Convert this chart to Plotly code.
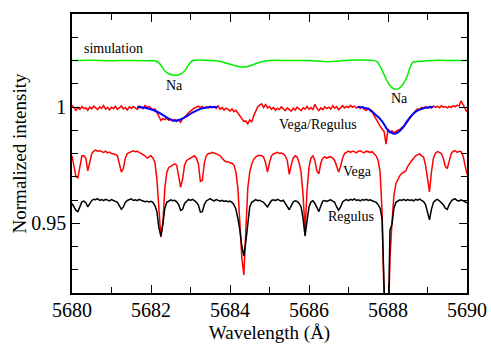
import numpy as np
import plotly.graph_objects as go

# wavelength grid of the observed spectra (Angstrom)
WL_START = 5680.0
WL_STEP = 0.05
N_PTS = 201
wl = np.round(WL_START + WL_STEP * np.arange(N_PTS), 2)

vega = [
    0.979, 0.975, 0.970, 0.9695, 0.975, 0.979, 0.979, 0.978, 0.9725, 0.977,
    0.980, 0.981, 0.9815, 0.981, 0.9812, 0.9808, 0.9805, 0.981, 0.9803, 0.9806,
    0.980, 0.9798, 0.9796, 0.979, 0.976, 0.972, 0.9735, 0.978, 0.980, 0.9805,
    0.981, 0.9812, 0.9808, 0.981, 0.9805, 0.980, 0.9795, 0.979, 0.978, 0.9785,
    0.979, 0.978, 0.976, 0.969, 0.955, 0.944, 0.950, 0.965, 0.972, 0.974,
    0.9745, 0.975, 0.9755, 0.975, 0.971, 0.9655, 0.969, 0.975, 0.977, 0.9775,
    0.978, 0.9785, 0.979, 0.978, 0.9755, 0.968, 0.9685, 0.976, 0.979, 0.980,
    0.980, 0.9805, 0.9802, 0.980, 0.9795, 0.979, 0.978, 0.977, 0.9765, 0.9765,
    0.976, 0.9758, 0.975, 0.972, 0.965, 0.950, 0.935, 0.9278, 0.948, 0.965,
    0.972, 0.9755, 0.9775, 0.9785, 0.979, 0.9792, 0.979, 0.9785, 0.976, 0.972,
    0.976, 0.979, 0.9798, 0.980, 0.9805, 0.980, 0.9802, 0.9798, 0.979, 0.977,
    0.971, 0.975, 0.978, 0.979, 0.9785, 0.976, 0.972, 0.962, 0.947, 0.964,
    0.974, 0.978, 0.979, 0.977, 0.9725, 0.9712, 0.976, 0.978, 0.9785, 0.978,
    0.9785, 0.9786, 0.978, 0.977, 0.974, 0.972, 0.9745, 0.978, 0.980, 0.9805,
    0.981, 0.9805, 0.981, 0.9808, 0.9803, 0.981, 0.9812, 0.9806, 0.9804, 0.981,
    0.9808, 0.9805, 0.9808, 0.980, 0.979, 0.977, 0.972, 0.955, 0.915, 0.880,
    0.900, 0.935, 0.950, 0.962, 0.967, 0.969, 0.9705, 0.9715, 0.972, 0.9725,
    0.9745, 0.976, 0.977, 0.978, 0.979, 0.9795, 0.9798, 0.979, 0.9785, 0.975,
    0.968, 0.9635, 0.972, 0.978, 0.980, 0.9808, 0.9805, 0.980, 0.978, 0.9745,
    0.9735, 0.9775, 0.980, 0.981, 0.9812, 0.9805, 0.981, 0.9808, 0.979, 0.975,
    0.971,
]

regulus = [
    0.9585, 0.957, 0.9555, 0.955, 0.957, 0.9592, 0.9595, 0.9588, 0.957, 0.9585,
    0.9598, 0.9603, 0.9601, 0.9606, 0.9598, 0.9602, 0.9597, 0.9603, 0.960, 0.9596,
    0.9602, 0.9598, 0.9595, 0.959, 0.9575, 0.956, 0.957, 0.959, 0.9598, 0.9602,
    0.9605, 0.9598, 0.9601, 0.9597, 0.9603, 0.9599, 0.9596, 0.9593, 0.9595, 0.9592,
    0.9594, 0.959, 0.9575, 0.955, 0.948, 0.9445, 0.9495, 0.9565, 0.959, 0.9597,
    0.9601, 0.9597, 0.9599, 0.9592, 0.958, 0.9555, 0.956, 0.9585, 0.9596, 0.9602,
    0.9598, 0.9603, 0.9597, 0.959, 0.9578, 0.9548, 0.955, 0.958, 0.9596, 0.9603,
    0.9606, 0.960, 0.9596, 0.9602, 0.9598, 0.9595, 0.9599, 0.9594, 0.9597, 0.9593,
    0.9595, 0.959, 0.958, 0.956, 0.952, 0.947, 0.940, 0.936, 0.942, 0.951,
    0.957, 0.959, 0.9598, 0.9602, 0.9597, 0.9599, 0.9594, 0.959, 0.958, 0.957,
    0.9585, 0.9598, 0.9601, 0.9597, 0.9603, 0.9598, 0.9595, 0.9599, 0.9585, 0.957,
    0.9558, 0.9575, 0.9592, 0.9597, 0.9594, 0.9585, 0.957, 0.952, 0.9445, 0.951,
    0.957, 0.9592, 0.9597, 0.9585, 0.9565, 0.955, 0.9575, 0.9595, 0.9598, 0.9594,
    0.9598, 0.9601, 0.9595, 0.959, 0.957, 0.9556, 0.957, 0.9592, 0.9598, 0.9602,
    0.9597, 0.9603, 0.9599, 0.9605, 0.9598, 0.9601, 0.9596, 0.9602, 0.9599, 0.9603,
    0.9598, 0.9601, 0.9597, 0.9595, 0.959, 0.958, 0.9565, 0.952, 0.925, 0.895,
    0.900, 0.947, 0.9495, 0.9565, 0.959, 0.9597, 0.9601, 0.9598, 0.9603, 0.9597,
    0.9602, 0.9598, 0.9601, 0.9596, 0.9603, 0.9599, 0.9604, 0.9598, 0.9593, 0.958,
    0.955, 0.9515, 0.956, 0.959, 0.9598, 0.9603, 0.9597, 0.959, 0.958, 0.9565,
    0.956, 0.958, 0.9595, 0.9602, 0.9605, 0.9598, 0.9596, 0.9601, 0.9597, 0.9592,
    0.9588,
]

ratio = [
    1.0008, 0.9995, 0.9985, 0.9998, 0.9990, 1.0002, 0.9993, 0.9997, 0.9986, 0.9999,
    0.9992, 1.0004, 0.9996, 0.9989, 1.0001, 0.9994, 1.0006, 0.9991, 0.9998, 0.9988,
    0.9999, 0.9993, 1.0003, 0.9990, 0.9997, 1.0005, 0.9992, 0.9998, 0.9987, 1.0001,
    0.9994, 1.0002, 0.9996, 0.9990, 1.0004, 0.9997, 0.9993, 1.0007, 0.9998, 1.0003,
    0.9995, 0.9988, 0.9992, 0.9978, 0.9960, 0.9942, 0.9950, 0.9946, 0.9952, 0.9943,
    0.9948, 0.9940, 0.9946, 0.9938, 0.9945, 0.9934, 0.9950, 0.9956, 0.9968, 0.9975,
    0.9982, 0.9990, 0.9996, 0.9999, 1.0004, 0.9997, 1.0002, 0.9995, 1.0001, 0.9996,
    1.0003, 0.9997, 1.0000, 0.9994, 1.0005, 0.9990, 0.9998, 0.9987, 0.9995, 0.9990,
    0.9983, 0.9992, 0.9980, 0.9986, 0.9975, 0.9965, 0.9950, 0.9938, 0.9940, 0.9928,
    0.9945, 0.9935, 0.9962, 0.9985, 1.0000, 1.0008, 1.0014, 0.9998, 1.0010, 0.9996,
    1.0002, 0.9990, 0.9998, 0.9986, 0.9995, 0.9989, 1.0001, 0.9992, 0.9984, 0.9996,
    0.9988, 0.9982, 0.9995, 0.9987, 0.9999, 0.9990, 0.9984, 0.9997, 0.9991, 1.0003,
    0.9990, 0.9998, 0.9988, 1.0012, 0.9994, 0.9985, 0.9996, 0.9989, 1.0001, 0.9993,
    0.9999, 0.9991, 1.0005, 0.9995, 1.0002, 0.9988, 0.9997, 1.0006, 0.9996, 1.0003,
    0.9998, 1.0007, 0.9999, 1.0004, 0.9996, 1.0002, 0.9994, 1.0001, 0.9990, 0.9985,
    0.9995, 0.9983, 0.9978, 0.9962, 0.9945, 0.9932, 0.9918, 0.9905, 0.9895, 0.9840,
    0.9905, 0.9890, 0.9898, 0.9889, 0.9895, 0.9900, 0.9903, 0.9912, 0.9915, 0.9925,
    0.9938, 0.9950, 0.9962, 0.9975, 0.9985, 0.9992, 0.9988, 0.9998, 0.9994, 1.0001,
    0.9995, 1.0002, 0.9996, 1.0004, 0.9998, 1.0003, 0.9997, 1.0005, 0.9999, 1.0002,
    0.9996, 1.0003, 0.9998, 1.0006, 1.0001, 1.0008, 1.0004, 1.0026, 1.0010, 0.9998,
    0.9978,
]

# simulated Na doublet spectrum
sim_wl = [5680.0, 5680.5, 5681.0, 5681.5, 5682.0, 5682.15, 5682.25, 5682.35, 5682.45,
          5682.55, 5682.65, 5682.75, 5682.85, 5682.95, 5683.05, 5683.5, 5683.7, 5683.9,
          5684.1, 5684.3, 5684.45, 5684.6, 5684.8, 5685.0, 5685.5, 5686.0, 5686.3,
          5686.5, 5686.7, 5686.9, 5687.0, 5687.6, 5687.72, 5687.8, 5687.9, 5688.0,
          5688.1, 5688.18, 5688.28, 5688.38, 5688.48, 5688.56, 5688.63, 5688.8,
          5689.0, 5689.3, 5689.6, 5690.0]
sim_val = [1.0200, 1.0201, 1.0199, 1.0200, 1.0199, 1.0197, 1.0180, 1.0155, 1.0143,
           1.0138, 1.0137, 1.0142, 1.0155, 1.0180, 1.0199, 1.0200, 1.0198, 1.0189,
           1.0179, 1.0172, 1.0174, 1.0183, 1.0195, 1.0200, 1.0200, 1.0200, 1.0197,
           1.0195, 1.0197, 1.0200, 1.0201, 1.0200, 1.0195, 1.0175, 1.0140, 1.0105,
           1.0083, 1.0076, 1.0080, 1.0098, 1.0130, 1.0170, 1.0193, 1.0196,
           1.0199, 1.0201, 1.0200, 1.0200]

# fitted Na profiles on the ratio
fit1_wl = [5681.65, 5681.9, 5682.1, 5682.3, 5682.45, 5682.6, 5682.75, 5682.9, 5683.05,
           5683.25, 5683.45, 5683.67]
fit1_val = [1.0000, 0.9995, 0.9984, 0.9966, 0.9950, 0.9941, 0.9946, 0.9960, 0.9976,
            0.9992, 0.9999, 1.0000]
fit2_wl = [5687.24, 5687.4, 5687.54, 5687.68, 5687.8, 5687.9, 5687.97, 5688.06, 5688.15,
           5688.25, 5688.35, 5688.45, 5688.56, 5688.66, 5688.76, 5688.9, 5689.14]
fit2_val = [1.0000, 0.9997, 0.9989, 0.9968, 0.9949, 0.9926, 0.9906, 0.9892, 0.9885,
            0.9891, 0.9906, 0.9930, 0.9956, 0.9974, 0.9985, 0.9995, 1.0000]

labels = ["simulation", "Na", "Na", "Vega/Regulus", "Vega", "Regulus"]
label_x = [5680.25, 5682.6, 5688.28, 5686.23, 5687.22, 5687.06]
label_y = [1.0252, 1.0094, 1.0038, 0.9923, 0.9722, 0.9530]
label_anchor = ["left", "center", "center", "center", "center", "center"]

x_major = [5680, 5682, 5684, 5686, 5688, 5690]
x_minor = [5681, 5683, 5685, 5687, 5689]
y_major = [0.95, 1.0]
y_major_text = ["0.95", "1"]
y_minor = [0.93, 0.94, 0.96, 0.97, 0.98, 0.99, 1.01, 1.02, 1.03]

FONT = '"Liberation Serif", "Times New Roman", Times, serif'

fig = go.Figure()
fig.add_trace(go.Scatter(x=wl, y=vega, mode="lines", line=dict(color="#ff0000", width=1.5)))
fig.add_trace(go.Scatter(x=wl, y=regulus, mode="lines", line=dict(color="#000000", width=1.5)))
fig.add_trace(go.Scatter(x=wl, y=ratio, mode="lines", line=dict(color="#ff0000", width=1.5)))
fig.add_trace(go.Scatter(x=fit1_wl, y=fit1_val, mode="lines", line=dict(color="#0000ff", width=2, shape="spline")))
fig.add_trace(go.Scatter(x=fit2_wl, y=fit2_val, mode="lines", line=dict(color="#0000ff", width=2, shape="spline")))
fig.add_trace(go.Scatter(x=sim_wl, y=sim_val, mode="lines", line=dict(color="#00ee00", width=1.5, shape="spline")))

for t, x, y, a in zip(labels, label_x, label_y, label_anchor):
    fig.add_annotation(x=x, y=y, text=t, showarrow=False, xanchor=a, yanchor="middle",
                       font=dict(family=FONT, size=14, color="black"))

fig.update_xaxes(range=[5680, 5690], tickvals=x_major,
                 showline=True, linecolor="#000000", linewidth=1.5, mirror="allticks",
                 ticks="inside", ticklen=8, tickwidth=1.2, tickcolor="#000000",
                 showgrid=False, zeroline=False, automargin=False,
                 ticklabelstandoff=-2,
                 tickfont=dict(family=FONT, size=20, color="black"),
                 minor=dict(tickvals=x_minor, ticks="inside", ticklen=6,
                            tickcolor="#000000", tickwidth=1.2),
                 title=dict(text="Wavelength (Å)", font=dict(family=FONT, size=19, color="black"), standoff=6))
fig.update_yaxes(range=[0.92, 1.04], tickvals=y_major, ticktext=y_major_text,
                 showline=True, linecolor="#000000", linewidth=1.5, mirror="allticks",
                 ticks="inside", ticklen=8, tickwidth=1.2, tickcolor="#000000",
                 showgrid=False, zeroline=False, automargin=False,
                 tickfont=dict(family=FONT, size=20, color="black"),
                 minor=dict(tickvals=y_minor, ticks="inside", ticklen=6,
                            tickcolor="#000000", tickwidth=1.2),
                 title=dict(text="Normalized intensity", font=dict(family=FONT, size=19, color="black"), standoff=0))

fig.update_layout(width=491, height=347, showlegend=False,
                  margin=dict(l=72, r=24, t=14, b=54),
                  font=dict(family=FONT),
                  plot_bgcolor="white", paper_bgcolor="white")

# the page body has a default 8px margin; drop it so the figure fills the window
fig.write_html("out.html", post_script="document.body.style.margin='0';",
               config={"displayModeBar": False})
